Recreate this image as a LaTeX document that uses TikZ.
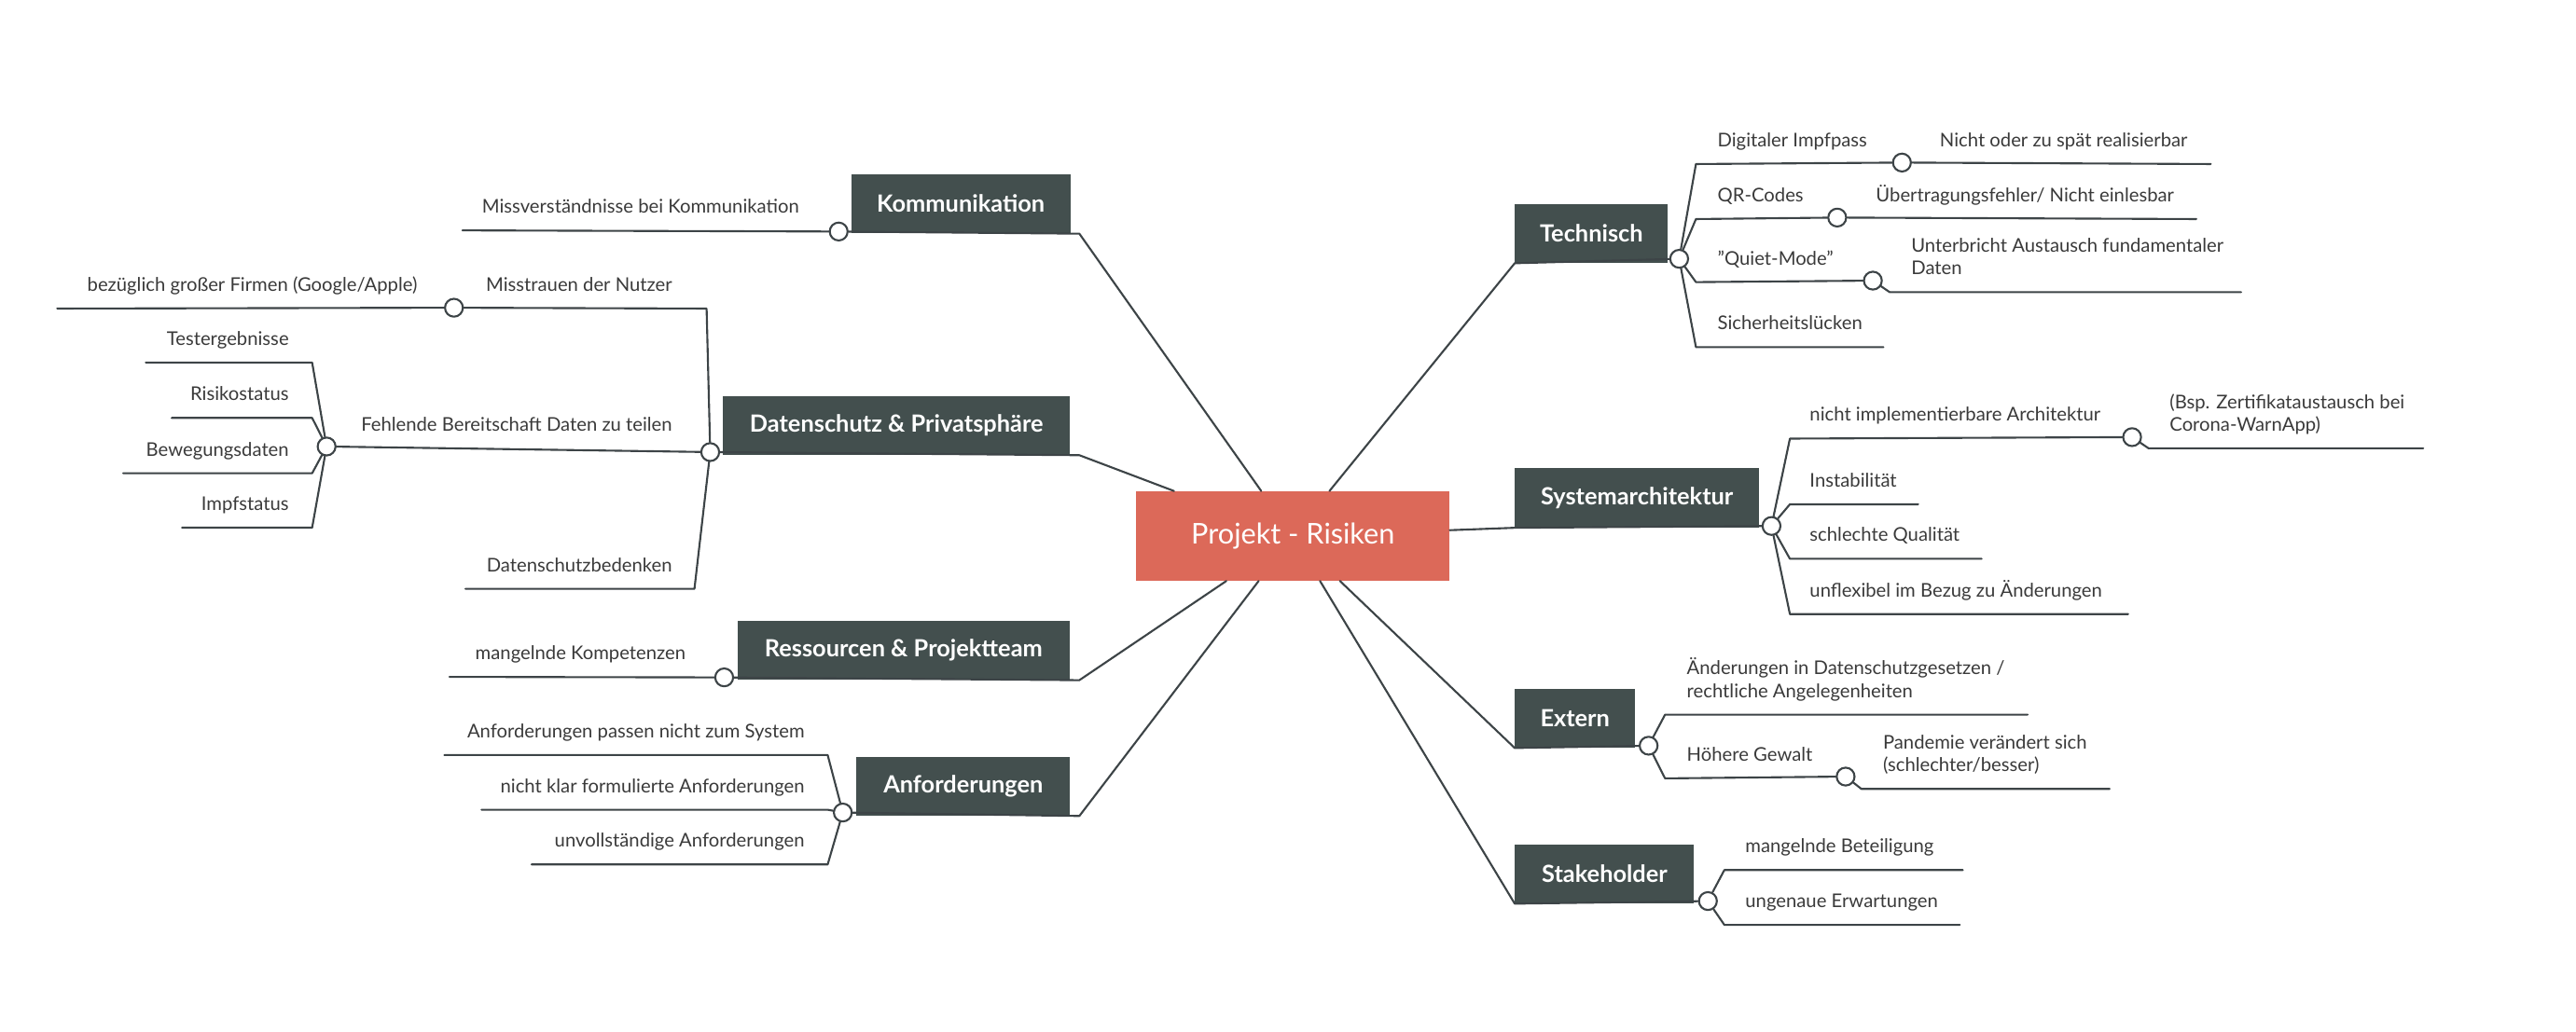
\documentclass[tikz,border=0pt]{standalone}
\usepackage{fontspec}
\setmainfont{Lato}
\definecolor{lnc}{HTML}{3D4447}
\definecolor{boxc}{HTML}{434F4E}
\definecolor{hubc}{HTML}{DC6959}
\definecolor{txc}{HTML}{3A3A3A}
\begin{document}
\begin{tikzpicture}[x=1pt,y=-1pt,line join=round,line cap=round,
	ln/.style={draw=lnc,line width=1.2pt},
	hub/.style={fill=hubc,text=white,font=\fontsize{17.4}{20}\selectfont,minimum width=190.6pt,minimum height=54.4pt,inner sep=0pt},
	topic/.style={fill=boxc,text=white,font=\bfseries\fontsize{14.4}{17}\selectfont,minimum height=36pt,inner sep=0pt},
	knob/.style={circle,draw=lnc,fill=white,line width=1.2pt,minimum size=10.9pt,inner sep=0pt},
	lt/.style={anchor=base east,inner sep=0pt,text=txc,font=\fontsize{11.5}{13.7}\selectfont},
	rt/.style={anchor=base west,inner sep=0pt,text=txc,font=\fontsize{11.5}{13.7}\selectfont,align=left}]
	\useasboundingbox (0,0) rectangle (1568,627.9);
	\node[hub] (risk) at (787,326.4) {Projekt - Risiken};
	% linke Seite
	\node[topic,anchor=south east,minimum width=133.4pt] (kom) at (651.7,142.3) {Kommunikation};
	\node[topic,anchor=south east,minimum width=211.2pt] (dat) at (651.5,277.2) {Datenschutz \& Privatsphäre};
	\node[topic,anchor=south east,minimum width=202.4pt] (res) at (651.4,414.2) {Ressourcen \& Projektteam};
	\node[topic,anchor=south east,minimum width=129.9pt] (anf) at (651.5,496.9) {Anforderungen};
	\coordinate (kom-e) at (657,142.3); \coordinate (dat-e) at (657,277.2);
	\coordinate (res-e) at (657,414.2); \coordinate (anf-e) at (657,496.9);
	\node[knob] (kom-k) at (510.5,141) {};
	\node[knob] (dat-k) at (432.3,275.3) {};
	\node[knob] (res-k) at (440.8,412.5) {};
	\node[knob] (anf-k) at (513,494.8) {};
	\foreach \n in {kom,dat,res,anf}
		\draw[ln] (\n-k) -- (\n-e) -- (risk);
	% rechte Seite
	\node[topic,anchor=south west,minimum width=93pt] (tec) at (922,160.3) {Technisch};
	\node[topic,anchor=south west,minimum width=148.5pt] (sys) at (922,321.4) {Systemarchitektur};
	\node[topic,anchor=south west,minimum width=73pt] (ext) at (922,455.5) {Extern};
	\node[topic,anchor=south west,minimum width=109pt] (sta) at (922,550.3) {Stakeholder};
	\node[knob] (tec-k) at (1022.1,157.6) {};
	\node[knob] (sys-k) at (1078.3,320.3) {};
	\node[knob] (ext-k) at (1003.5,454.1) {};
	\node[knob] (sta-k) at (1039.6,548.7) {};
	\foreach \n in {tec,sys,ext,sta}
		\draw[ln] (\n-k) -- (\n.south west) -- (risk);
	% Kommunikation
	\coordinate (k1b) at (281.5,140.3);
	\draw[ln] (kom-k) -- (k1b);
	\node[lt] (k1) at (486.6,129.8) {Missverständnisse bei Kommunikation};
	% Datenschutz
	\coordinate (d1a) at (430.1,187.9); \coordinate (d1b) at (34.8,187.9);
	\node[knob] (d1-k) at (276.3,187.4) {};
	\draw[ln] (dat-k) -- (d1a) -- (d1-k) -- (d1b);
	\node[lt] (d1) at (409.3,177.3) {Misstrauen der Nutzer};
	\node[lt] (d11) at (254.2,177.3) {bezüglich großer Firmen (Google/Apple)};
	\node[knob] (d2-k) at (198.8,271.9) {};
	\draw[ln] (dat-k) -- (d2-k);
	\node[lt] (d2) at (409.3,262.4) {Fehlende Bereitschaft Daten zu teilen};
	\foreach \y/\xo/\t [count=\i] in {220.8/88.7/Testergebnisse,254.5/104.5/Risikostatus,288.2/75/Bewegungsdaten,321.3/110.8/Impfstatus}{
		\coordinate (f\i-a) at (190,\y); \coordinate (f\i-b) at (\xo,\y);
		\draw[ln] (d2-k) -- (f\i-a) -- (f\i-b);
		\node[lt] (f\i) at (176,\y-10.5) {\t};
	}
	\coordinate (d3a) at (422.7,358.6); \coordinate (d3b) at (283.3,358.6);
	\draw[ln] (dat-k) -- (d3a) -- (d3b);
	\node[lt] (d3) at (409.3,348.1) {Datenschutzbedenken};
	% Ressourcen
	\coordinate (r1b) at (273.6,412.2);
	\draw[ln] (res-k) -- (r1b);
	\node[lt] (r1) at (417.5,401.7) {mangelnde Kompetenzen};
	% Anforderungen
	\foreach \y/\xo/\t [count=\i] in {459.8/270.5/Anforderungen passen nicht zum System,493.1/293.1/nicht klar formulierte Anforderungen,526.4/323.5/unvollständige Anforderungen}{
		\coordinate (a\i-a) at (503.8,\y); \coordinate (a\i-b) at (\xo,\y);
		\draw[ln] (anf-k) -- (a\i-a) -- (a\i-b);
		\node[lt] (a\i) at (489.9,\y-10.5) {\t};
	}
	% Technisch
	\coordinate (t1a) at (1032.3,99.9); \coordinate (t1b) at (1345.7,99.9);
	\node[knob] (t1-k) at (1157.7,99) {};
	\draw[ln] (tec-k) -- (t1a) -- (t1-k) -- (t1b);
	\node[rt] (t1) at (1045.3,89.4) {Digitaler Impfpass};
	\node[rt] (t11) at (1180.6,89.4) {Nicht oder zu spät realisierbar};
	\coordinate (t2a) at (1032.3,133.4); \coordinate (t2b) at (1336.9,133.4);
	\node[knob] (t2-k) at (1118.3,132.5) {};
	\draw[ln] (tec-k) -- (t2a) -- (t2-k) -- (t2b);
	\node[rt] (t2) at (1045.3,122.9) {QR-Codes};
	\node[rt] (t21) at (1141.7,122.9) {Übertragungsfehler/ Nicht einlesbar};
	\coordinate (t3a) at (1032.3,171.8); \coordinate (t3c) at (1150.2,177.9); \coordinate (t3b) at (1364.2,177.9);
	\node[knob] (t3-k) at (1140,170.9) {};
	\draw[ln] (tec-k) -- (t3a) -- (t3-k) -- (t3c) -- (t3b);
	\node[rt] (t3) at (1045.3,161.3) {\symbol{34}Quiet-Mode\symbol{34}};
	\node[rt] (t31) at (1163.2,167.4) {Unterbricht Austausch fundamentaler\\Daten};
	\coordinate (t4a) at (1032.3,211.4); \coordinate (t4b) at (1146.4,211.4);
	\draw[ln] (tec-k) -- (t4a) -- (t4b);
	\node[rt] (t4) at (1045.3,200.9) {Sicherheitslücken};
	% Systemarchitektur
	\coordinate (s1a) at (1089.5,267.1); \coordinate (s1c) at (1307.8,273); \coordinate (s1b) at (1475,273);
	\node[knob] (s1-k) at (1297.8,266.2) {};
	\draw[ln] (sys-k) -- (s1a) -- (s1-k) -- (s1c) -- (s1b);
	\node[rt] (s1) at (1101.4,256.6) {nicht implementierbare Architektur};
	\node[rt] (s11) at (1320.5,262.5) {(Bsp. Zertifikataustausch bei\\Corona-WarnApp)};
	\foreach \y/\xo/\t [count=\i from 2] in {307.1/1167.6/Instabilität,340.3/1206.2/schlechte Qualität,374/1295.4/unflexibel im Bezug zu Änderungen}{
		\coordinate (s\i a) at (1089.5,\y); \coordinate (s\i b) at (\xo,\y);
		\draw[ln] (sys-k) -- (s\i a) -- (s\i b);
		\node[rt] (s\i) at (1101.4,\y-10.5) {\t};
	}
	% Extern
	\coordinate (e1a) at (1013.5,435.2); \coordinate (e1b) at (1234.2,435.2);
	\draw[ln] (ext-k) -- (e1a) -- (e1b);
	\node[rt] (e1) at (1026.6,424.7) {Änderungen in Datenschutzgesetzen /\\rechtliche Angelegenheiten};
	\coordinate (e2a) at (1013.5,474); \coordinate (e2c) at (1133,480.4); \coordinate (e2b) at (1284.1,480.4);
	\node[knob] (e2-k) at (1123.4,472.9) {};
	\draw[ln] (ext-k) -- (e2a) -- (e2-k) -- (e2c) -- (e2b);
	\node[rt] (e2) at (1026.6,463.5) {Höhere Gewalt};
	\node[rt] (e21) at (1146,469.9) {Pandemie verändert sich\\(schlechter/besser)};
	% Stakeholder
	\coordinate (h1a) at (1049.6,529.8); \coordinate (h1b) at (1194.7,529.8);
	\coordinate (h2a) at (1049.6,563.2); \coordinate (h2b) at (1192.9,563.2);
	\draw[ln] (sta-k) -- (h1a) -- (h1b);
	\draw[ln] (sta-k) -- (h2a) -- (h2b);
	\node[rt] (h1) at (1062.2,519.3) {mangelnde Beteiligung};
	\node[rt] (h2) at (1062.2,552.7) {ungenaue Erwartungen};
\end{tikzpicture}
\end{document}
